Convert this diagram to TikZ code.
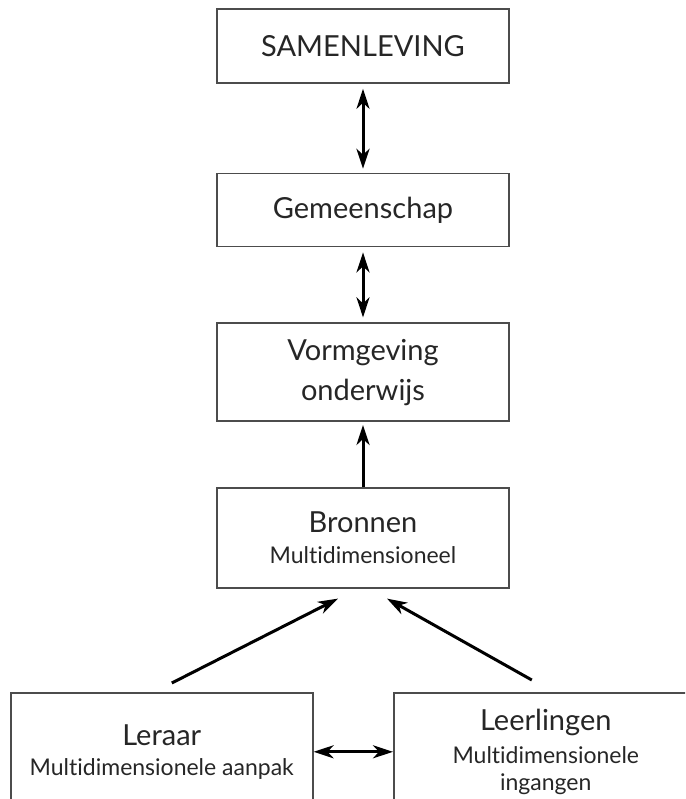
\documentclass[tikz,border=0pt]{standalone}
\usepackage{fontspec}
\setmainfont{Lato}[Ligatures=NoCommon]
\usetikzlibrary{positioning,arrows.meta,calc}
\newcommand{\hdfont}{\fontsize{29}{38}\selectfont}
\newcommand{\subfont}{\fontsize{23}{27}\selectfont}
\begin{document}
\begin{tikzpicture}[x=1pt, y=1pt, >={Stealth[length=20pt,width=13pt,inset=6pt]},
  box/.style={draw=black!70, line width=1.6pt, minimum width=292pt, inner sep=0pt, align=center, text=black!85, font=\hdfont},
  link/.style={line width=3pt, black}]
  \clip (0,0) rectangle (685,-799);
  % central column
  \node[box, minimum height=74pt] (samen) at (363,-46) {SAMENLEVING};
  \node[box, minimum height=73pt, below=89pt of samen] (gemeen) {Gemeenschap};
  \node[box, minimum height=98pt, below=75pt of gemeen] (vorm) {Vormgeving\\[2pt]onderwijs};
  \node[box, minimum height=100pt, below=65pt of vorm] (bron) {Bronnen\\[-7pt]{\subfont Multidimensioneel}};
  % bottom row
  \node[box, minimum width=302pt, minimum height=118pt, anchor=north west] (leraar) at (10,-692) {Leraar\\[-8pt]{\subfont Multidimensionele aanpak}};
  \node[box, minimum width=304pt, minimum height=118pt, anchor=north west] (leerl) at (393,-692) {Leerlingen\\[-5pt]{\subfont Multidimensionele}\\[-11pt]{\subfont ingangen}};
  \coordinate (lstart) at ($(leraar.north)+(10,9)$);
  \coordinate (ltip) at ($(bron.south)+(-25,-10)$);
  \coordinate (rstart) at ($(leerl.north)+(-14,12)$);
  \coordinate (rtip) at ($(bron.south)+(24,-10)$);
  \draw[link,<->, shorten <=5pt, shorten >=4pt] (samen) -- (gemeen);
  \draw[link,<->, shorten <=5pt, shorten >=5pt] (gemeen) -- (vorm);
  \draw[link,->, shorten >=3pt] (bron) -- (vorm);
  \draw[link,->] (lstart) -- (ltip);
  \draw[link,->] (rstart) -- (rtip);
  \draw[link,<->] (leraar) -- (leerl);
\end{tikzpicture}
\end{document}
